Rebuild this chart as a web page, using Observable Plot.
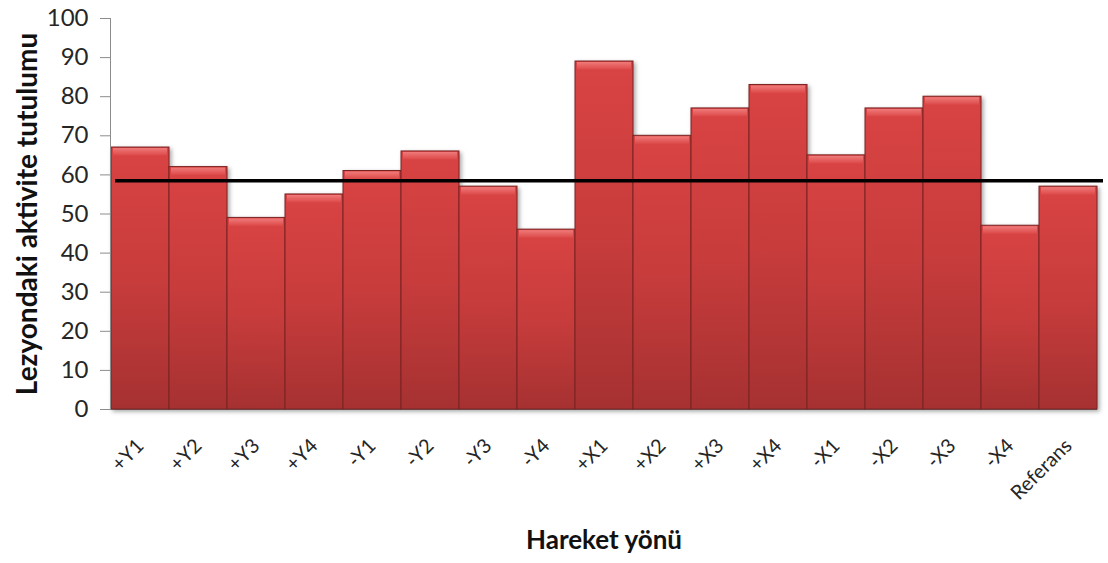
<!DOCTYPE html>
<html><head><meta charset="utf-8">
<script src="https://cdn.jsdelivr.net/npm/d3@7"></script>
<script src="https://cdn.jsdelivr.net/npm/@observablehq/plot@0.6"></script>
<style>
body{margin:0;background:#fff;}
#chart svg{font-family:Lato,"Open Sans",sans-serif;background:#fff;}
</style>
</head><body><div id="chart"></div>
<script>
const categories = ["+Y1","+Y2","+Y3","+Y4","-Y1","-Y2","-Y3","-Y4","+X1","+X2","+X3","+X4","-X1","-X2","-X3","-X4","Referans"];
const values = [67,62,49,55,61,66,57,46,89,70,77,83,65,77,80,47,57];
const referenceValue = [58.5];
const yTicks = [0,10,20,30,40,50,60,70,80,90,100];
const yLabel = "Lezyondaki aktivite tutulumu";
const xLabel = "Hareket yönü";

const data = categories.map((c, i) => ({c, v: values[i]}));

const plot = Plot.plot({
  width: 1108, height: 563,
  marginLeft: 110, marginRight: 11, marginTop: 18, marginBottom: 154,
  x: {domain: categories, padding: 0, label: null},
  y: {domain: [0, 100], label: null},
  style: {color: "#262626"},
  marks: [
    Plot.ruleY([0], {stroke: "#8c8c8c", insetLeft: -8}),
    Plot.barY(data, {x: "c", y: "v", fill: "url(#barGrad)", stroke: "#7a2222", strokeWidth: 1}),
    Plot.barY(data, {x: "c", y1: d => d.v - 2.2, y2: "v", fill: "url(#topGrad)", insetLeft: 2, insetRight: 2, insetTop: 1}),
    Plot.frame({anchor: "left", stroke: "#8c8c8c"}),
    Plot.axisY({ticks: yTicks, tickSize: 10, tickPadding: 12, fontSize: 24, label: null, stroke: "#8c8c8c", textStroke: "none"}),
    Plot.axisX({tickSize: 0, tickRotate: -45, tickPadding: 33, fontSize: 20, label: null}),
    Plot.ruleY(referenceValue, {stroke: "black", strokeWidth: 3.5, insetLeft: 5, insetRight: -6}),
    Plot.text([yLabel], {frameAnchor: "left", textAnchor: "middle", rotate: -90, dx: -82, fontWeight: "bold", fontSize: 28, fill: "#111"}),
    Plot.text([xLabel], {frameAnchor: "bottom", textAnchor: "middle", dy: 139, fontWeight: "bold", fontSize: 26, fill: "#111"})
  ]
});

const ns = "http://www.w3.org/2000/svg";
const defs = document.createElementNS(ns, "defs");
defs.innerHTML = `
<linearGradient id="barGrad" x1="0" y1="0" x2="0" y2="1">
  <stop offset="0" stop-color="#d94343"/>
  <stop offset="0.5" stop-color="#c83c3c"/>
  <stop offset="1" stop-color="#a63131"/>
</linearGradient>
<linearGradient id="topGrad" x1="0" y1="0" x2="0" y2="1">
  <stop offset="0" stop-color="#f07a7a"/>
  <stop offset="1" stop-color="#dc4848"/>
</linearGradient>`;
plot.insertBefore(defs, plot.firstChild);
const barGroups = plot.querySelectorAll('g[aria-label="bar"]');
if (barGroups[0]) barGroups[0].style.filter = "drop-shadow(2px 2px 2px rgba(0,0,0,0.35))";
document.getElementById("chart").appendChild(plot);
</script>
</body></html>
